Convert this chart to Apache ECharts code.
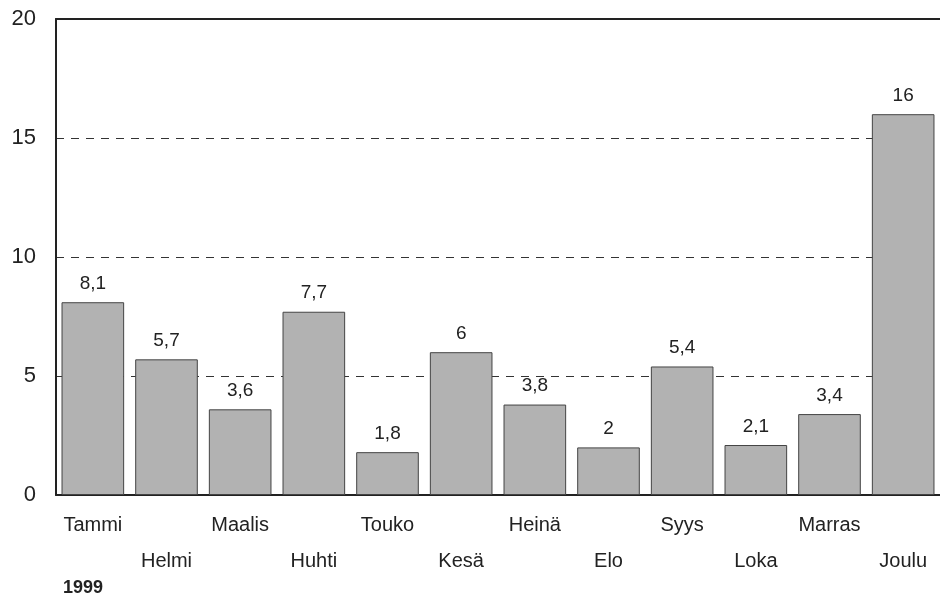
<!DOCTYPE html>
<html><head><meta charset="utf-8">
<script src="https://cdn.jsdelivr.net/npm/echarts@6/dist/echarts.min.js"></script>
<style>html,body{margin:0;padding:0;background:#fff}#c{width:940px;height:606px}</style>
</head><body><div id="c"></div>
<script>
const months = ['Tammi','Helmi','Maalis','Huhti','Touko','Kesä','Heinä','Elo','Syys','Loka','Marras','Joulu'];
const values = [8.1,5.7,3.6,7.7,1.8,6,3.8,2,5.4,2.1,3.4,16];
const yearLabel = '1999';
const font = 'Liberation Sans, Arial, sans-serif';
const chart = echarts.init(document.getElementById('c'), null, {renderer:'canvas'});
chart.setOption({
  animation:false,
  grid:{left:56,right:-1,top:19,bottom:111,containLabel:false},
  graphic:[{type:'text',left:63,top:579,style:{text:yearLabel,font:'bold 18px '+font,fill:'#222'}}],
  xAxis:[{
    type:'category',data:months,position:'bottom',
    axisLine:{show:true,lineStyle:{color:'#222',width:2}},
    axisTick:{show:false},
    axisLabel:{interval:0,color:'#222',fontFamily:font,fontSize:20,margin:12,lineHeight:36,
      formatter:(v,i)=> i%2===0 ? v : '\n'+v}
  },{
    type:'category',data:months,position:'top',
    axisLine:{show:true,lineStyle:{color:'#222',width:2}},
    axisTick:{show:false},axisLabel:{show:false}
  }],
  yAxis:{
    type:'value',min:0,max:20,interval:5,
    axisLine:{show:true,lineStyle:{color:'#222',width:2}},
    axisTick:{show:false},
    axisLabel:{color:'#222',fontFamily:font,fontSize:22,margin:20},
    splitLine:{show:true,lineStyle:{color:'#333',type:[8,7],width:1}}
  },
  series:[{
    type:'bar',data:values,barCategoryGap:'15%',
    itemStyle:{color:'#b2b2b2',borderColor:'#444',borderWidth:1},
    label:{show:true,position:'top',distance:9,color:'#222',fontFamily:font,fontSize:19,
      formatter:p=>String(p.value).replace('.',',')}
  }]
});
</script></body></html>
